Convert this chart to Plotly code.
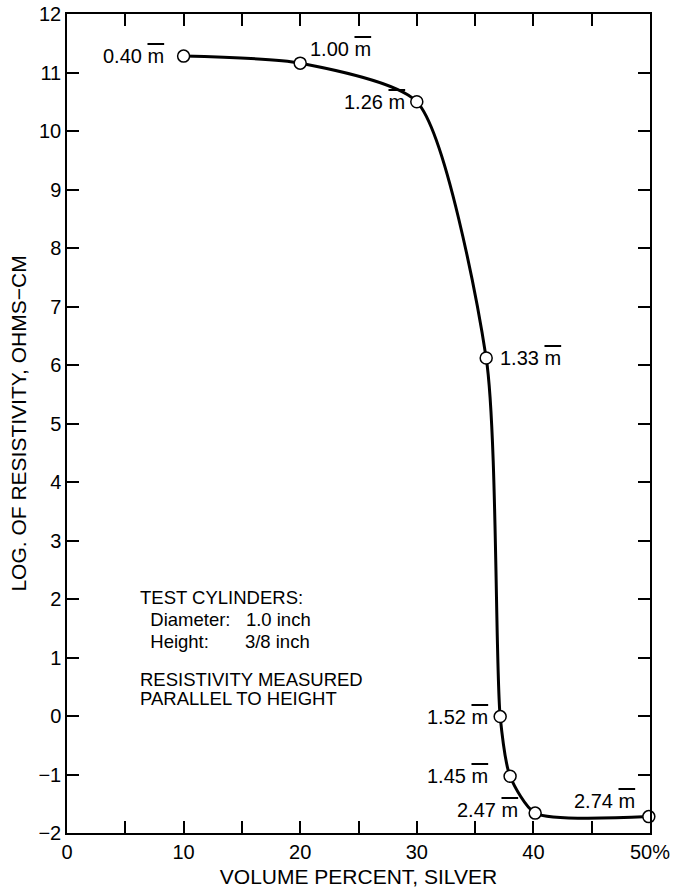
import plotly.graph_objects as go

# Data
silver_pct = [10, 20, 30, 35.95, 37.15, 38.0, 40.15, 49.9]
log_resistivity = [11.28, 11.16, 10.5, 6.12, -0.01, -1.03, -1.66, -1.72]
point_values = ["0.40", "1.00", "1.26", "1.33", "1.52", "1.45", "2.47", "2.74"]

x_tickvals = [0, 5, 10, 15, 20, 25, 30, 35, 40, 45, 50]
x_ticktext = ["0", "", "10", "", "20", "", "30", "", "40", "", "50%"]
y_tickvals = list(range(-2, 13))

notes = ["TEST CYLINDERS:", "&nbsp;&nbsp;Diameter:&nbsp;&nbsp;&nbsp;1.0 inch",
         "&nbsp;&nbsp;Height:&nbsp;&nbsp;&nbsp;&nbsp;&nbsp;&nbsp;&nbsp;3/8 inch",
         "RESISTIVITY MEASURED", "PARALLEL TO HEIGHT"]
note_yshift = [0, -22, -44, -82, -101]

FONT = "Liberation Sans, Arial, Helvetica, sans-serif"
MBAR = '<span style="text-decoration:overline">m</span>'

fig = go.Figure()
fig.add_trace(go.Scatter(
    x=silver_pct, y=log_resistivity, mode="lines+markers",
    line=dict(color="black", width=3, shape="spline", smoothing=0.65),
    marker=dict(symbol="circle", size=12, color="white",
                line=dict(color="black", width=1.5)),
    hoverinfo="skip", showlegend=False, cliponaxis=False,
))

# label placement styles: (xanchor, yanchor, xshift, yshift)
label_styles = [
    ("right", "middle", -18, 0),
    ("left", "bottom", 8, 1),
    ("right", "middle", -10, 0),
    ("left", "middle", 12, 0),
    ("right", "middle", -10, 0),
    ("right", "middle", -20, 0),
    ("right", "middle", -15, 3),
    ("right", "bottom", -12, 3),
]
for xv, yv, txt, st in zip(silver_pct, log_resistivity, point_values, label_styles):
    fig.add_annotation(x=xv, y=yv, text=txt + " " + MBAR, showarrow=False,
                       xanchor=st[0], yanchor=st[1], xshift=st[2], yshift=st[3],
                       font=dict(family=FONT, size=20, color="black"))

for line, ys in zip(notes, note_yshift):
    fig.add_annotation(
        x=0.121, y=0.287, xref="paper", yref="paper", xanchor="left", yanchor="middle",
        text=line, showarrow=False, align="left", yshift=ys,
        font=dict(family=FONT, size=18.5, color="black"),
    )

axis_common = dict(
    showgrid=False, zeroline=False, showline=True, linecolor="black", linewidth=1.5,
    mirror="ticks", ticks="inside", ticklen=12, tickwidth=1.5, tickcolor="black",
    tickfont=dict(family=FONT, size=20, color="black"), automargin=False,
)

fig.update_layout(
    width=678, height=894,
    margin=dict(l=67, r=28, t=14, b=61),
    paper_bgcolor="white", plot_bgcolor="white",
    xaxis=dict(range=[0, 50], tickmode="array", tickvals=x_tickvals, ticktext=x_ticktext,
               title=dict(text="VOLUME PERCENT, SILVER", standoff=8,
                          font=dict(family=FONT, size=21, color="black")),
               **axis_common),
    yaxis=dict(range=[-2, 12], tickmode="array", tickvals=y_tickvals,
               ticktext=[("\u2212" + str(-v)) if v < 0 else str(v) for v in y_tickvals],
               title=dict(text="LOG. OF RESISTIVITY, OHMS\u2212CM", standoff=6,
                          font=dict(family=FONT, size=21, color="black")),
               **axis_common),
)

fig.write_html("out.html")
